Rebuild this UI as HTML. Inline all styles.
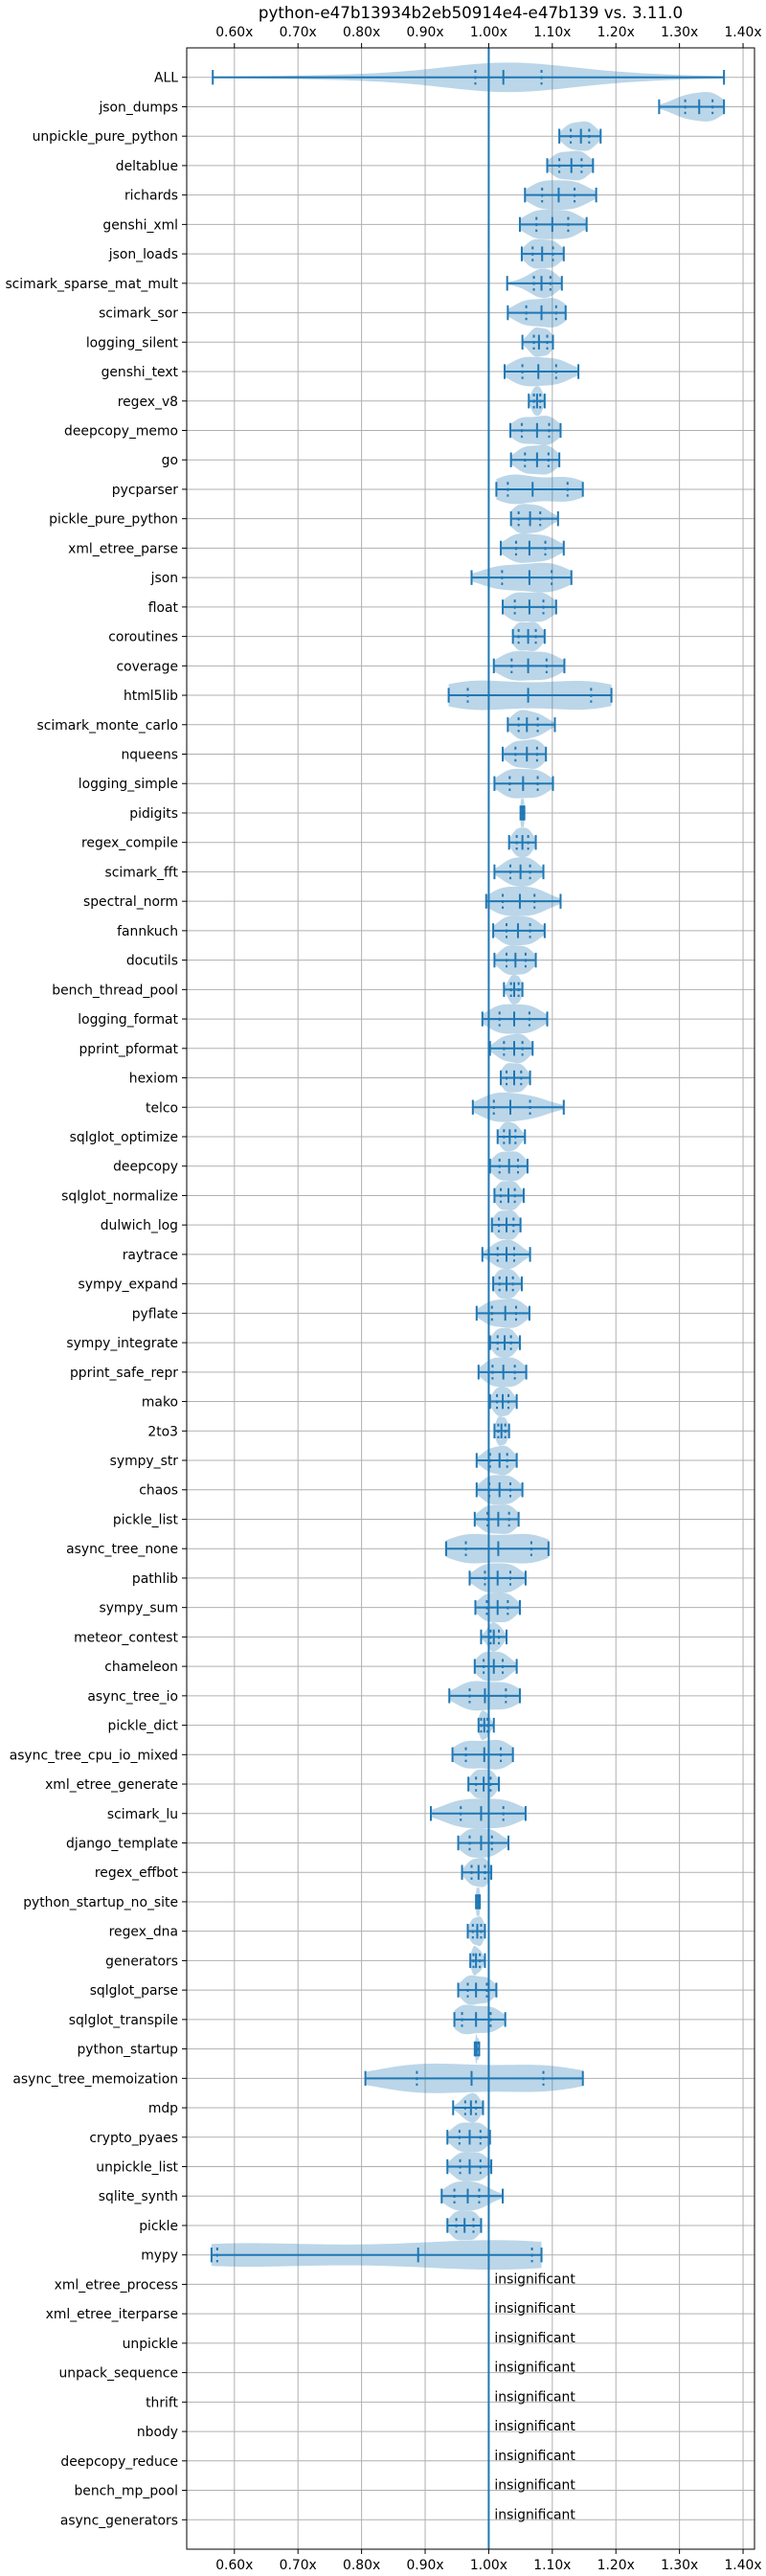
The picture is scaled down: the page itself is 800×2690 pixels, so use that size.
<!DOCTYPE html>
<html><head><meta charset="utf-8">
<style>
html,body{margin:0;padding:0;background:#fff;}
svg{display:block;font-family:"DejaVu Sans","Liberation Sans",sans-serif;}
</style></head>
<body>
<svg id="chart" width="800" height="2690" viewBox="0 0 800 2690" xmlns="http://www.w3.org/2000/svg">
<rect width="800" height="2690" fill="#fff"/>
<text x="491.5" y="19" font-size="16.7" text-anchor="middle" fill="#000">python-e47b13934b2eb50914e4-e47b139 vs. 3.11.0</text>
<g id="grid"></g><g id="violins"></g><g id="marks"></g><g id="axes"></g>
</svg>
<script>
const names = ["ALL","json_dumps","unpickle_pure_python","deltablue","richards","genshi_xml","json_loads","scimark_sparse_mat_mult","scimark_sor","logging_silent","genshi_text","regex_v8","deepcopy_memo","go","pycparser","pickle_pure_python","xml_etree_parse","json","float","coroutines","coverage","html5lib","scimark_monte_carlo","nqueens","logging_simple","pidigits","regex_compile","scimark_fft","spectral_norm","fannkuch","docutils","bench_thread_pool","logging_format","pprint_pformat","hexiom","telco","sqlglot_optimize","deepcopy","sqlglot_normalize","dulwich_log","raytrace","sympy_expand","pyflate","sympy_integrate","pprint_safe_repr","mako","2to3","sympy_str","chaos","pickle_list","async_tree_none","pathlib","sympy_sum","meteor_contest","chameleon","async_tree_io","pickle_dict","async_tree_cpu_io_mixed","xml_etree_generate","scimark_lu","django_template","regex_effbot","python_startup_no_site","regex_dna","generators","sqlglot_parse","sqlglot_transpile","python_startup","async_tree_memoization","mdp","crypto_pyaes","unpickle_list","sqlite_synth","pickle","mypy","xml_etree_process","xml_etree_iterparse","unpickle","unpack_sequence","thrift","nbody","deepcopy_reduce","bench_mp_pool","async_generators"];
const mins = [0.566,1.268,1.111,1.092,1.057,1.049,1.052,1.029,1.030,1.053,1.025,1.063,1.034,1.035,1.012,1.035,1.019,0.973,1.022,1.038,1.008,0.937,1.030,1.022,1.009,1.050,1.032,1.009,0.996,1.007,1.009,1.024,0.990,1.002,1.019,0.975,1.014,1.002,1.009,1.005,0.990,1.007,0.981,1.002,0.984,1.002,1.009,0.981,0.981,0.978,0.933,0.970,0.979,0.988,0.978,0.938,0.984,0.943,0.968,0.909,0.952,0.958,0.980,0.967,0.971,0.952,0.946,0.978,0.806,0.944,0.935,0.935,0.926,0.935,0.564,null,null,null,null,null,null,null,null,null];
const q1s = [0.979,1.309,1.129,1.111,1.084,1.075,1.069,1.071,1.059,1.071,1.053,1.071,1.052,1.057,1.030,1.047,1.043,1.021,1.041,1.047,1.036,0.967,1.047,1.042,1.033,1.051,1.044,1.034,1.022,1.028,1.028,1.035,1.017,1.024,1.028,1.008,1.024,1.017,1.019,1.016,1.014,1.017,1.005,1.014,1.006,1.013,1.015,1.002,1.001,0.998,0.964,0.994,0.997,1.003,0.992,0.970,0.988,0.964,0.980,0.956,0.970,0.973,0.981,0.975,0.976,0.967,0.958,0.980,0.887,0.963,0.954,0.955,0.946,0.949,0.573,null,null,null,null,null,null,null,null,null];
const meds = [1.023,1.331,1.145,1.130,1.110,1.100,1.084,1.083,1.083,1.079,1.078,1.076,1.076,1.076,1.069,1.065,1.064,1.064,1.064,1.062,1.062,1.062,1.060,1.060,1.054,1.053,1.053,1.050,1.049,1.046,1.042,1.040,1.040,1.040,1.040,1.034,1.033,1.032,1.031,1.028,1.028,1.028,1.026,1.025,1.023,1.022,1.020,1.017,1.017,1.015,1.015,1.014,1.014,1.008,1.008,0.994,0.993,0.993,0.992,0.988,0.988,0.984,0.983,0.982,0.980,0.980,0.980,0.981,0.973,0.972,0.970,0.970,0.967,0.962,0.889,null,null,null,null,null,null,null,null,null];
const q3s = [1.083,1.352,1.158,1.146,1.135,1.125,1.101,1.097,1.106,1.092,1.106,1.081,1.095,1.094,1.124,1.081,1.089,1.099,1.086,1.074,1.091,1.161,1.077,1.076,1.077,1.055,1.062,1.065,1.072,1.065,1.058,1.047,1.064,1.053,1.051,1.065,1.042,1.046,1.041,1.039,1.040,1.038,1.043,1.035,1.041,1.031,1.026,1.029,1.034,1.032,1.067,1.034,1.030,1.016,1.022,1.027,0.998,1.019,1.003,1.023,1.005,0.994,0.985,0.988,0.986,0.997,1.003,0.984,1.086,0.980,0.987,0.987,0.985,0.976,1.068,null,null,null,null,null,null,null,null,null];
const maxs = [1.370,1.370,1.176,1.164,1.169,1.154,1.118,1.115,1.121,1.101,1.141,1.088,1.113,1.111,1.148,1.109,1.118,1.130,1.106,1.088,1.119,1.193,1.104,1.090,1.101,1.056,1.074,1.086,1.113,1.088,1.074,1.053,1.092,1.069,1.065,1.118,1.057,1.061,1.055,1.050,1.065,1.052,1.064,1.049,1.059,1.044,1.032,1.044,1.053,1.047,1.094,1.058,1.049,1.028,1.044,1.049,1.008,1.038,1.016,1.058,1.031,1.004,0.986,0.994,0.994,1.012,1.026,0.985,1.148,0.991,1.002,1.004,1.022,0.988,1.083,null,null,null,null,null,null,null,null,null];
const xTicks = [0.6,0.7,0.8,0.9,1.0,1.1,1.2,1.3,1.4];
const xTickLabels = ["0.60x","0.70x","0.80x","0.90x","1.00x","1.10x","1.20x","1.30x","1.40x"];

const NS="http://www.w3.org/2000/svg";
const L=195,R=788,T=50,B=2662,XMIN=0.525,XMAX=1.418;
const step=(B-T)/(names.length+1);
function xs(v){return L+(v-XMIN)/(XMAX-XMIN)*(R-L);}
function ys(i){return T+(i+1)*step;}
const C="#1f77b4";
function mk(tag,attrs,parent){const e=document.createElementNS(NS,tag);for(const k in attrs)e.setAttribute(k,attrs[k]);parent.appendChild(e);return e;}
const gGrid=document.getElementById('grid'),gV=document.getElementById('violins'),gM=document.getElementById('marks'),gA=document.getElementById('axes');

xTicks.forEach((t,k)=>{
  const l=mk('line',{x1:xs(t),x2:xs(t),y1:T,y2:B,stroke:'#b0b0b0','stroke-width':1},gGrid);
  
  
  [[T,T-5,38],[B,B+5,2683]].forEach(([a,b,ty])=>{
    mk('line',{x1:xs(t),x2:xs(t),y1:a,y2:b,stroke:'#000','stroke-width':1},gA);
    const tx=mk('text',{x:xs(t),y:ty,'font-size':13.9,'text-anchor':'middle',fill:'#000'},gA);
    tx.textContent=xTickLabels[k];
    
    
  });
});
names.forEach((n,i)=>{
  const y=ys(i);
  const l=mk('line',{x1:L,x2:R,y1:y,y2:y,stroke:'#b0b0b0','stroke-width':1},gGrid);
  
  
  mk('line',{x1:L-5,x2:L,y1:y,y2:y,stroke:'#000','stroke-width':1},gA);
  const tx=mk('text',{x:L-9,y:y+5,'font-size':13.9,'text-anchor':'end',fill:'#000'},gA);
  tx.textContent=n;
  
  
});

const HALF=15.4, CAP=7.7;
function probit(p){const a=[-39.696830,220.946098,-275.928510,138.357751,-30.664798,2.506628],b=[-54.476098,161.585836,-155.698979,66.801311,-13.280681],c=[-0.007784894,-0.3223964,-2.400758,-2.549732,4.374664,2.938163],d=[0.007784695,0.3224671,2.445134,3.754408];
  if(p<0.02425){const q=Math.sqrt(-2*Math.log(p));return (((((c[0]*q+c[1])*q+c[2])*q+c[3])*q+c[4])*q+c[5])/((((d[0]*q+d[1])*q+d[2])*q+d[3])*q+1);}
  if(p>1-0.02425){const q=Math.sqrt(-2*Math.log(1-p));return -(((((c[0]*q+c[1])*q+c[2])*q+c[3])*q+c[4])*q+c[5])/((((d[0]*q+d[1])*q+d[2])*q+d[3])*q+1);}
  const q=p-0.5,r=q*q;return (((((a[0]*r+a[1])*r+a[2])*r+a[3])*r+a[4])*r+a[5])*q/(((((b[0]*r+b[1])*r+b[2])*r+b[3])*r+b[4])*r+1);}
const ZK=[-2.4,-0.674,0,0.674,2.4];
function interpZ(z,q){if(z<=ZK[0])return q[0];if(z>=ZK[4])return q[4];for(let k=0;k<4;k++){if(z<=ZK[k+1]){const f=(z-ZK[k])/(ZK[k+1]-ZK[k]);return q[k]+f*(q[k+1]-q[k]);}}return q[4];}
names.forEach((n,i)=>{
  const y=ys(i);
  if(mins[i]===null){
    const tx=mk('text',{x:xs(1.0)+6,y:y-1,'font-size':13.9,fill:'#000'},gM);
    tx.textContent='insignificant';
    
    
    return;
  }
  const q=[mins[i],q1s[i],meds[i],q3s[i],maxs[i]];
  const N=200,samples=[];
  for(let k=0;k<N;k++)samples.push(interpZ(probit((k+0.5)/N),q));
  const mean=samples.reduce((a,b)=>a+b,0)/N;
  const sd=Math.sqrt(samples.reduce((a,b)=>a+(b-mean)*(b-mean),0)/N)||1e-4;
  const bw=Math.max(sd*0.6,(q[4]-q[0])*0.01);
  const M=100,pts=[];let mx=0;
  for(let k=0;k<=M;k++){const v=q[0]+(q[4]-q[0])*k/M;let d=0;for(const s of samples){const z=(v-s)/bw;d+=Math.exp(-0.5*z*z);}pts.push([v,d]);if(d>mx)mx=d;}
  let dPath='';
  pts.forEach((p,k)=>{dPath+=(k?'L':'M')+xs(p[0]).toFixed(2)+','+(y-p[1]/mx*HALF).toFixed(2);});
  for(let k=pts.length-1;k>=0;k--){const p=pts[k];dPath+='L'+xs(p[0]).toFixed(2)+','+(y+p[1]/mx*HALF).toFixed(2);}
  const v=mk('path',{d:dPath+'Z',fill:C,'fill-opacity':0.3,stroke:'none'},gV);
  
  
  const g=mk('g',{},gM);
  
  
  mk('line',{x1:xs(q[0]),x2:xs(q[4]),y1:y,y2:y,stroke:C,'stroke-width':2},g);
  [q[0],q[4],q[2]].forEach(val=>mk('line',{x1:xs(val),x2:xs(val),y1:y-CAP,y2:y+CAP,stroke:C,'stroke-width':2},g));
  [q[1],q[3]].forEach(val=>mk('line',{x1:xs(val),x2:xs(val),y1:y-CAP,y2:y+CAP,stroke:C,'stroke-width':2,'stroke-dasharray':'3,3.5'},g));
});
const ref=mk('line',{x1:xs(1.0),x2:xs(1.0),y1:T,y2:B,stroke:C,'stroke-width':2},gM);


const frame=mk('rect',{x:L,y:T,width:R-L,height:B-T,fill:'none',stroke:'#000','stroke-width':1},gA);


</script>
</body></html>
